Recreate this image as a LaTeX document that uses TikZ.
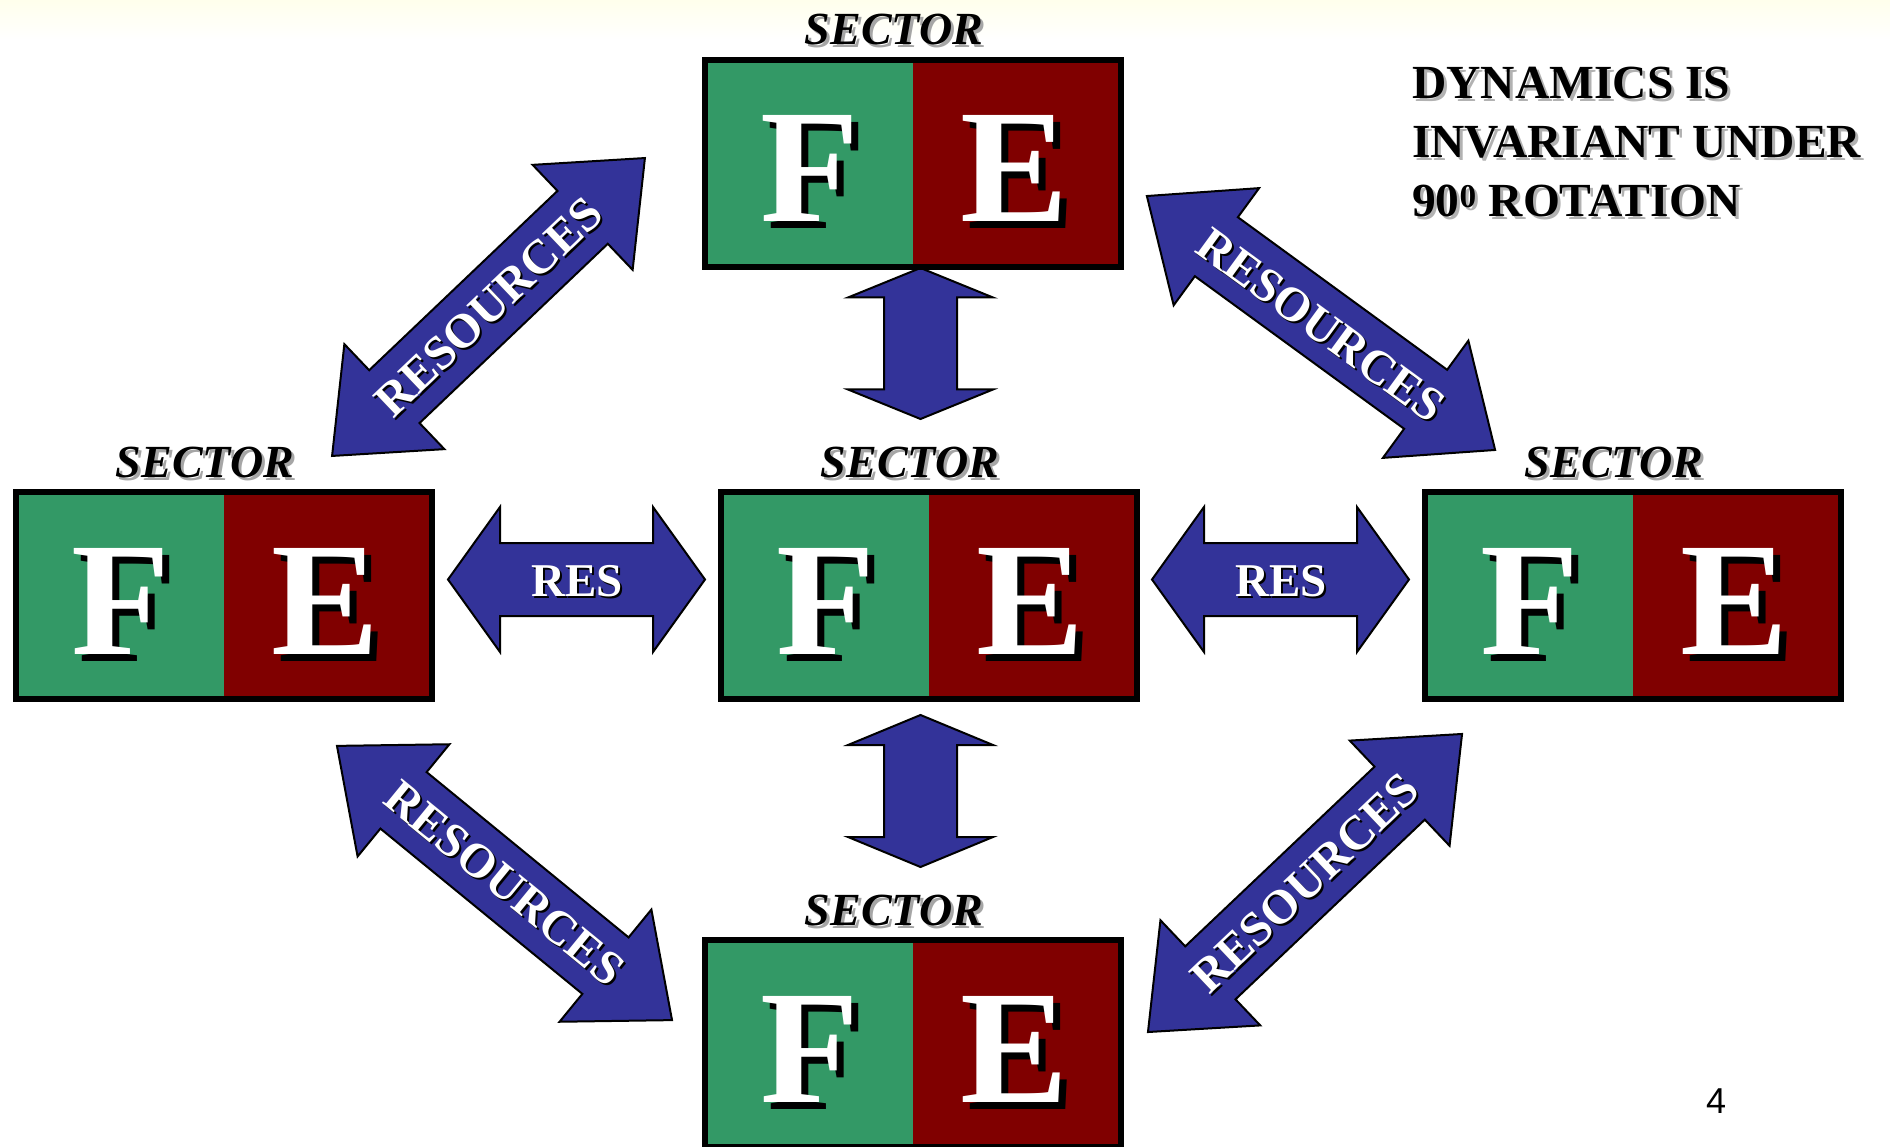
\documentclass[tikz,border=0pt]{standalone}
\usepackage{fontspec}
\setmainfont{Liberation Serif}
\newfontfamily\arialfont{Liberation Sans}
\definecolor{fegreen}{RGB}{51,153,102}
\definecolor{fered}{RGB}{128,0,0}
\definecolor{resblue}{RGB}{51,51,153}
\definecolor{glow}{RGB}{255,255,236}
\newcommand\sectorunit[3]{% name, center x, top y
  \node[sectorbox] (#1) at (#2,#3+106.5) {};
  \node[lettershadow] (#1-Fs) at (#2-103+7,#3+165+7) {F};
  \node[letter] (#1-F) at (#2-103,#3+165) {F};
  \node[lettershadow] (#1-Es) at (#2+102+7,#3+165+7) {E};
  \node[letter] (#1-E) at (#2+102,#3+165) {E};
  \node[labelshadow] (#1-ls) at (#2-19+3,#3-12+3) {SECTOR};
  \node[sectorlabel] (#1-l) at (#2-19,#3-12) {SECTOR};
}
\newcommand\blockarrow[5]{% center x, center y, angle, length, head length
  \begin{scope}[shift={(#1,#2)},rotate=#3]
    \draw[arrowbody] ({-#4/2},0) -- ({-#4/2+#5},72.5) -- ({-#4/2+#5},36.5)
      -- ({#4/2-#5},36.5) -- ({#4/2-#5},72.5) -- ({#4/2},0)
      -- ({#4/2-#5},-72.5) -- ({#4/2-#5},-36.5) -- ({-#4/2+#5},-36.5)
      -- ({-#4/2+#5},-72.5) -- cycle;
  \end{scope}
}
\newcommand\arrowlabel[6]{% name, x, y, angle, size, text
  \node[restext,text=black,rotate=#4,font=\fontsize{#5}{#5}\selectfont\bfseries] (#1-s) at (#2+2,#3+2) {#6};
  \node[restext,rotate=#4,font=\fontsize{#5}{#5}\selectfont\bfseries] (#1) at (#2,#3) {#6};
}
\begin{document}
\begin{tikzpicture}[x=1pt,y=-1pt,
  sectorbox/.style={draw=black,line width=6pt,minimum width=416pt,minimum height=207pt,inner sep=0pt,
    path picture={\fill[fegreen] (path picture bounding box.south west) rectangle (path picture bounding box.north);
                  \fill[fered] (path picture bounding box.north) rectangle (path picture bounding box.south east);}},
  letter/.style={font=\fontsize{162}{162}\selectfont\bfseries,text=white,inner sep=0pt,anchor=base},
  lettershadow/.style={letter,text=black},
  sectorlabel/.style={font=\fontsize{46}{46}\selectfont\bfseries\itshape,text=black,inner sep=0pt,anchor=base},
  labelshadow/.style={sectorlabel,text=black!35},
  arrowbody/.style={fill=resblue,draw=black,line width=2pt,line join=miter},
  restext/.style={text=white,inner sep=0pt},
  infotext/.style={font=\fontsize{47.5}{47.5}\selectfont\bfseries,text=black,inner sep=0pt,anchor=base west},
  infoshadow/.style={infotext,text=black!30}]
\useasboundingbox (0,0) rectangle (1890,1147);
\fill[white] (0,0) rectangle (1890,1147);
\shade[top color=glow,bottom color=white] (0,0) rectangle (1890,40);

% arrows
\blockarrow{920.5}{343.5}{90}{151}{29.5}
\blockarrow{920.5}{791}{90}{152}{30}
\blockarrow{576.5}{579.5}{0}{257}{52}
\blockarrow{1280.5}{579.5}{0}{257}{52}
\blockarrow{488.5}{307}{43.6}{432}{86}
\blockarrow{1321}{323}{-36.1}{431}{86}
\blockarrow{504.5}{883}{-39.3}{433}{86}
\blockarrow{1305}{883}{43.5}{433}{86}

\arrowlabel{resL}{577}{581}{0}{47}{RES}
\arrowlabel{resR}{1281}{581}{0}{47}{RES}
\arrowlabel{resUL}{488.5}{307}{43.6}{48}{RESOURCES}
\arrowlabel{resUR}{1321}{325}{-36.1}{48}{RESOURCES}
\arrowlabel{resLL}{504.5}{883}{-39.3}{48}{RESOURCES}
\arrowlabel{resLR}{1305}{883}{43.5}{48}{RESOURCES}

% sector boxes
\sectorunit{top}{913}{57}
\sectorunit{center}{929}{489}
\sectorunit{left}{224}{489}
\sectorunit{right}{1633}{489}
\sectorunit{bottom}{913}{937}

% note
\node[infoshadow] (d1s) at (1415,102) {DYNAMICS IS};
\node[infotext] (d1) at (1412,99) {DYNAMICS IS};
\node[infoshadow] (d2s) at (1415,161) {INVARIANT UNDER};
\node[infotext] (d2) at (1412,158) {INVARIANT UNDER};
\node[infoshadow] (d3s) at (1415,220) {90\textsuperscript{0} ROTATION};
\node[infotext] (d3) at (1412,217) {90\textsuperscript{0} ROTATION};

\node[font=\arialfont\fontsize{36}{36}\selectfont,inner sep=0pt,anchor=base] (page) at (1716,1113) {4};
\end{tikzpicture}
\end{document}
